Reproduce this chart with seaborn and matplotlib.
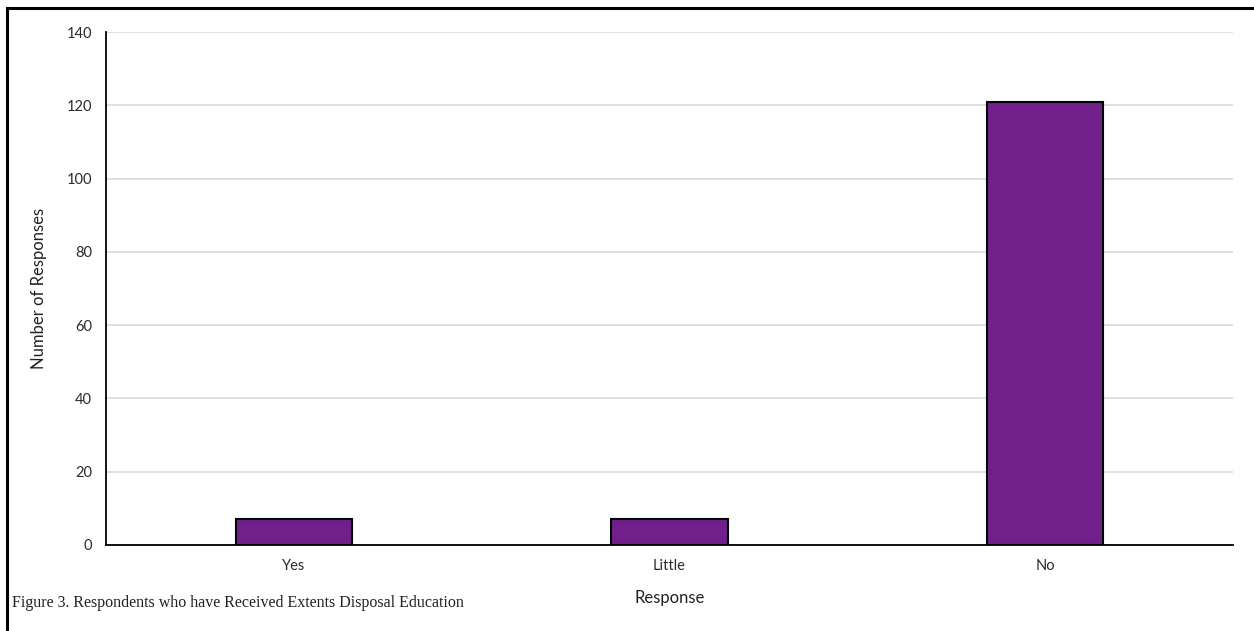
import matplotlib
matplotlib.use("Agg")
import matplotlib.pyplot as plt
import seaborn as sns
import pandas as pd
from matplotlib.patches import Rectangle

categories = ["Yes", "Little", "No"]
values = [7, 7, 121]
y_ticks = [0, 20, 40, 60, 80, 100, 120, 140]

sns.set_theme(style="white")
plt.rcParams['font.family'] = ['Lato', 'DejaVu Sans']

fig = plt.figure(figsize=(12.54, 6.31), dpi=100)
ax = fig.add_axes([106/1254, 1-545/631, (1233-106)/1254, (545-32)/631])

df = pd.DataFrame({"Response": categories, "Count": values})
sns.barplot(data=df, x="Response", y="Count", color="#701F8B", saturation=1,
            width=0.31, edgecolor="black", linewidth=1.5, ax=ax, zorder=3)

ax.set_ylim(0, 140)
ax.set_xlim(-0.5, 2.5)
ax.set_yticks(y_ticks)
ax.yaxis.grid(True, color="#DDDDDD", linewidth=1.3, zorder=0)
ax.set_axisbelow(True)
for s in ["top", "right"]:
    ax.spines[s].set_visible(False)
for s in ["left", "bottom"]:
    ax.spines[s].set_color("black")
    ax.spines[s].set_linewidth(1.3)
ax.tick_params(axis="both", length=0, labelsize=10.5, colors="#2b2b2b", pad=10)
ax.set_xlabel("Response", fontsize=12, color="#222222", labelpad=12)
ax.set_ylabel("Number of Responses", fontsize=12, color="#222222", labelpad=14)

fig.patches.append(Rectangle((7/1254, -0.1), 1.2, 1-8/631+0.1, transform=fig.transFigure,
                             fill=False, edgecolor="black", linewidth=2.2, figure=fig))
fig.text(12/1254, 1-603/631, "Figure 3. Respondents who have Received Extents Disposal Education",
         fontsize=11.5, family=["Liberation Serif", "DejaVu Serif"], color="#222222", va="center", ha="left")

fig.savefig("out.png", dpi=100)
